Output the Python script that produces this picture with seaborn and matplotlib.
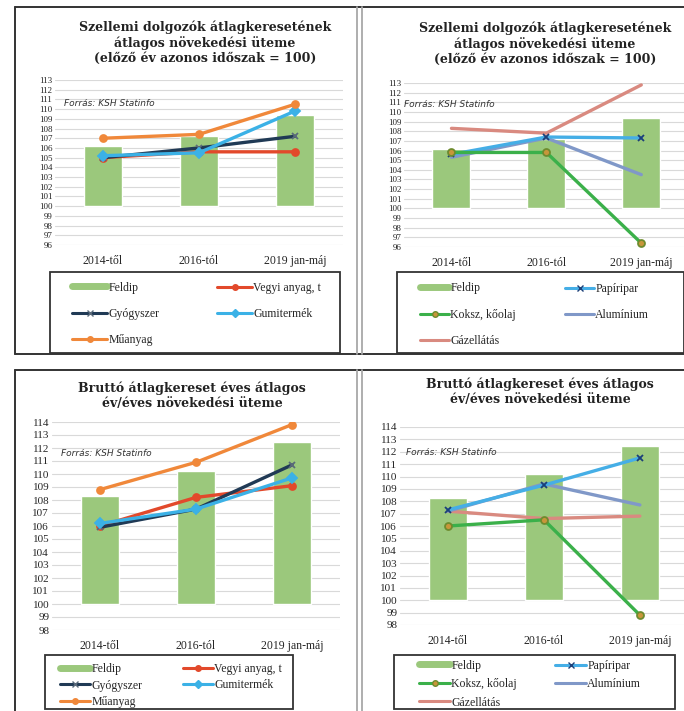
import numpy as np
import matplotlib
matplotlib.use('Agg')
import matplotlib.pyplot as plt
from matplotlib.lines import Line2D
from matplotlib.patches import Rectangle
import seaborn as sns

sns.set_style('white')
plt.rcParams['font.family'] = ['Liberation Serif', 'DejaVu Serif']

W, H = 684, 711

# ---------------- data ----------------
cats = ['2014-től', '2016-tól', '2019 jan-máj']

# szellemi dolgozok (elozo ev azonos idoszak = 100)
feldip_top = [106.2, 107.2, 109.4]
vegyi_top = [105.0, 105.6, 105.6]
gyogy_top = [105.0, 106.0, 107.2]
gumi_top = [105.2, 105.5, 109.8]
muanyag_top = [107.0, 107.4, 110.5]
papir_top = [105.6, 107.4, 107.3]
koksz_top = [105.8, 105.8, 96.4]
alu_top = [105.3, 107.3, 103.5]
gaz_top = [108.3, 107.8, 112.8]

# brutto atlagkereset ev/eves
feldip_bot = [108.3, 110.2, 112.5]
vegyi_bot = [106.0, 108.2, 109.1]
gyogy_bot = [105.9, 107.3, 110.7]
gumi_bot = [106.2, 107.3, 109.7]
muanyag_bot = [108.8, 110.9, 113.8]
papir_bot = [107.3, 109.3, 111.5]
koksz_bot = [106.0, 106.5, 98.8]
alu_bot = [107.2, 109.4, 107.7]
gaz_bot = [107.2, 106.6, 106.8]

title_top = 'Szellemi dolgozók átlagkeresetének\nátlagos növekedési üteme\n(előző év azonos időszak = 100)'
title_bot = 'Bruttó átlagkereset éves átlagos\név/éves növekedési üteme'
source = 'Forrás: KSH Statinfo'

# styles: label -> (color, marker, marker face, marker edge)
styles = {
    'Vegyi anyag, t': ('#e2492b', 'o', '#e2492b', '#e2492b'),
    'Gyógyszer': ('#203a55', 'x', '#203a55', '#5a6a7a'),
    'Gumitermék': ('#3bb1e6', 'D', '#3bb1e6', '#3bb1e6'),
    'Műanyag': ('#f0883a', 'o', '#f0883a', '#f0883a'),
    'Papíripar': ('#45aee6', 'x', '#1c3f78', '#1c3f78'),
    'Koksz, kőolaj': ('#3bb04a', 'o', '#c8963a', '#6e8b2e'),
    'Alumínium': ('#8098c8', 'none', '#8098c8', '#8098c8'),
    'Gázellátás': ('#d98a80', 'none', '#d98a80', '#d98a80'),
}
bar_color = '#9bc87c'


def px_axes(x0, y0, x1, y1):
    return fig.add_axes([x0 / W, 1 - y1 / H, (x1 - x0) / W, (y1 - y0) / H])


def panel(ax, feldip, series, ylim, xmax, tick_size, src_xy):
    sns.barplot(x=cats, y=np.array(feldip) - 100, bottom=100, color=bar_color,
                width=0.4, errorbar=None, ax=ax, saturation=1, zorder=2)
    for name, vals in series:
        c, m, mfc, mec = styles[name]
        sns.pointplot(x=cats, y=vals, color=c, markers=m, errorbar=None, ax=ax,
                      linewidth=2.4, markersize=5, markerfacecolor=mfc,
                      markeredgecolor=mec, markeredgewidth=1.3, zorder=3)
    ax.set_ylim(*ylim)
    ax.set_xlim(-0.5, xmax)
    ax.set_yticks(np.arange(ylim[0], ylim[1] + 1, 1))
    ax.yaxis.grid(True, color='#d9d9d9', lw=0.8)
    ax.xaxis.grid(False)
    ax.set_axisbelow(True)
    for s in ax.spines.values():
        s.set_visible(False)
    ax.set_xlabel('')
    ax.set_ylabel('')
    ax.tick_params(axis='y', labelsize=tick_size, pad=2, length=0)
    ax.tick_params(axis='x', labelsize=8.5, pad=7, length=0)
    ax.text(src_xy[0], src_xy[1], source, transform=ax.transAxes, fontsize=6.5,
            style='italic', family='DejaVu Sans', color='#333333', va='center')


def handle_for(name):
    if name == 'Feldip':
        return Line2D([], [], color=bar_color, lw=5)
    c, m, mfc, mec = styles[name]
    return Line2D([], [], color=c, lw=2.2, marker=m, markersize=4,
                  markerfacecolor=mfc, markeredgecolor=mec)


def add_legend(names, box, col_x, row_y, hlen_px):
    # box frame drawn separately, two one-column legends inside it
    x0, y0, x1, y1 = box
    fig.add_artist(Rectangle((x0 / W, 1 - y1 / H), (x1 - x0) / W, (y1 - y0) / H,
                             fill=False, edgecolor='#333333', lw=1.3,
                             transform=fig.transFigure))
    labels = ['Feldip'] + names
    cols = [labels[0::2], labels[1::2]]
    fs = 8.5
    fs_px = fs * 100 / 72
    gap = row_y[1] - row_y[0]
    for cx, col in zip(col_x, cols):
        ys = row_y[:len(col)]
        ymid = (ys[0] + ys[-1]) / 2
        leg = fig.legend([handle_for(n) for n in col], col, loc='center left',
                         bbox_to_anchor=(cx / W, 1 - ymid / H), frameon=False,
                         fontsize=fs, handlelength=hlen_px / fs_px,
                         handletextpad=0.1, borderpad=0, borderaxespad=0,
                         labelspacing=(gap - 13.5) / fs_px)


fig = plt.figure(figsize=(W / 100, H / 100), dpi=100)

left_series_top = [('Vegyi anyag, t', vegyi_top), ('Gyógyszer', gyogy_top),
                   ('Gumitermék', gumi_top), ('Műanyag', muanyag_top)]
right_series_top = [('Gázellátás', gaz_top), ('Alumínium', alu_top),
                    ('Papíripar', papir_top), ('Koksz, kőolaj', koksz_top)]
left_series_bot = [('Vegyi anyag, t', vegyi_bot), ('Gyógyszer', gyogy_bot),
                   ('Gumitermék', gumi_bot), ('Műanyag', muanyag_bot)]
right_series_bot = [('Gázellátás', gaz_bot), ('Alumínium', alu_bot),
                    ('Papíripar', papir_bot), ('Koksz, kőolaj', koksz_bot)]

ax1 = px_axes(55, 80, 343, 245)
panel(ax1, feldip_top, left_series_top, (96, 113), 2.5, 6.5, (0.03, 0.86))
ax2 = px_axes(404, 83, 684, 247)
panel(ax2, feldip_top, right_series_top, (96, 113), 2.45, 6.5, (0.0, 0.87))
ax3 = px_axes(52, 422, 340, 630)
panel(ax3, feldip_bot, left_series_bot, (98, 114), 2.5, 8, (0.03, 0.85))
ax4 = px_axes(400, 427, 684, 625)
panel(ax4, feldip_bot, right_series_bot, (98, 114), 2.46, 8, (0.02, 0.87))

tkw = dict(ha='center', va='center', fontsize=9, fontweight='bold',
           family='DejaVu Serif', linespacing=1.2, color='#222222')
fig.text(205 / W, 1 - 43 / H, title_top, **tkw)
fig.text(545 / W, 1 - 44 / H, title_top, **tkw)
fig.text(192 / W, 1 - 396 / H, title_bot, **tkw)
fig.text(540 / W, 1 - 392 / H, title_bot, **tkw)

names_left = ['Vegyi anyag, t', 'Gyógyszer', 'Gumitermék', 'Műanyag']
names_right = ['Papíripar', 'Koksz, kőolaj', 'Alumínium', 'Gázellátás']
add_legend(names_left, (50, 272, 340, 353), (72, 217), (287, 315, 341), 35)
add_legend(names_right, (397, 272, 684, 353), (420, 565), (288, 316, 342), 29)
add_legend(names_left, (45, 655, 293, 709), (60, 183), (668, 686, 703), 30)
add_legend(names_right, (394, 655, 675, 709), (419, 555), (665, 685, 703), 31)

# panel frames
frame = dict(color='#333333', lw=1.4, transform=fig.transFigure)
for y0, y1 in [(7, 354), (370, 711)]:
    fig.add_artist(Line2D([15 / W, 1], [1 - y0 / H, 1 - y0 / H], **frame))
    fig.add_artist(Line2D([15 / W, 15 / W], [1 - y0 / H, 1 - y1 / H], **frame))
    if y1 < H:
        fig.add_artist(Line2D([15 / W, 1], [1 - y1 / H, 1 - y1 / H], **frame))
    for xs in (357, 362):
        fig.add_artist(Line2D([xs / W, xs / W], [1 - y0 / H, 1 - y1 / H],
                              color='#a8a8a8', lw=1.3, transform=fig.transFigure))

fig.savefig('out.png', dpi=100)
